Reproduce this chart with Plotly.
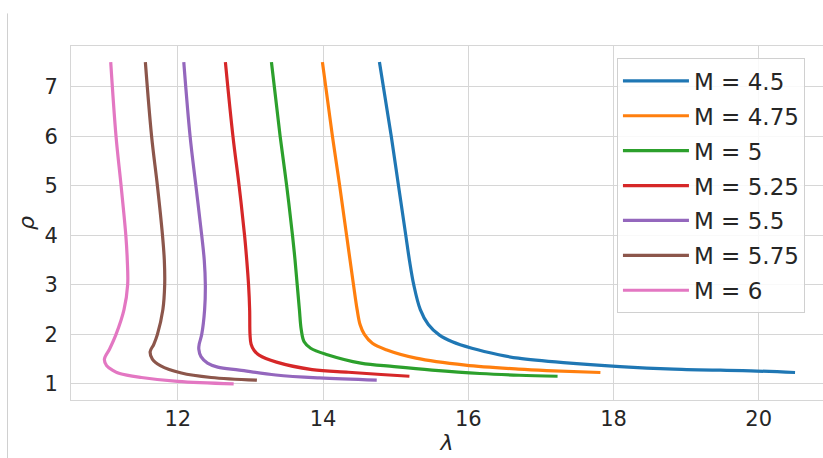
import plotly.graph_objects as go

labels = ["M = 4.5", "M = 4.75", "M = 5", "M = 5.25", "M = 5.5", "M = 5.75", "M = 6"]
colors = ["#1f77b4", "#ff7f0e", "#2ca02c", "#d62728", "#9467bd", "#8c564b", "#e377c2"]

lam_45 = [14.777, 14.94, 15.04, 15.14, 15.19, 15.25, 15.34, 15.45, 15.60, 15.78, 16.05, 16.42, 16.69, 17.31, 18.09, 18.83, 19.975, 20.50]
rho_45 = [7.5, 6.0, 5.0, 4.0, 3.5, 3.0, 2.5, 2.2, 1.99, 1.85, 1.72, 1.59, 1.52, 1.43, 1.35, 1.30, 1.26, 1.23]

lam_475 = [13.992, 14.13, 14.23, 14.325, 14.42, 14.47, 14.51, 14.57, 14.68, 14.87, 15.28, 15.96, 16.69, 17.08, 17.82]
rho_475 = [7.5, 6.0, 5.0, 4.0, 3.0, 2.5, 2.2, 2.0, 1.82, 1.69, 1.52, 1.38, 1.30, 1.27, 1.23]

lam_5 = [13.29, 13.41, 13.50, 13.58, 13.615, 13.645, 13.675, 13.70, 13.74, 13.83, 14.06, 14.52, 14.98, 15.5, 16.16, 16.7, 17.23]
rho_5 = [7.5, 6.0, 5.0, 4.0, 3.5, 3.0, 2.5, 2.1, 1.85, 1.72, 1.59, 1.42, 1.35, 1.28, 1.21, 1.175, 1.155]

lam_525 = [12.656, 12.76, 12.845, 12.92, 12.95, 12.975, 12.99, 12.995, 13.01, 13.05, 13.12, 13.36, 13.85, 14.35, 14.8, 15.19]
rho_525 = [7.5, 6.0, 5.0, 4.0, 3.5, 3.0, 2.5, 2.0, 1.8, 1.68, 1.58, 1.44, 1.29, 1.235, 1.19, 1.155]

lam_55 = [12.083, 12.17, 12.25, 12.33, 12.365, 12.38, 12.37, 12.33, 12.295, 12.29, 12.32, 12.41, 12.55, 12.85, 13.35, 13.95, 14.74]
rho_55 = [7.5, 6.0, 5.0, 4.0, 3.5, 3.0, 2.5, 2.0, 1.8, 1.7, 1.55, 1.42, 1.34, 1.28, 1.18, 1.12, 1.075]

lam_575 = [11.554, 11.64, 11.72, 11.79, 11.815, 11.82, 11.795, 11.72, 11.67, 11.62, 11.65, 11.76, 12.05, 12.46, 13.09]
rho_575 = [7.5, 6.0, 5.0, 4.0, 3.5, 3.0, 2.5, 2.0, 1.8, 1.65, 1.5, 1.37, 1.22, 1.13, 1.075]

lam_6 = [11.077, 11.15, 11.22, 11.285, 11.305, 11.31, 11.26, 11.15, 11.06, 10.99, 11.02, 11.1, 11.2, 11.5, 12.0, 12.77]
rho_6 = [7.5, 6.0, 5.0, 4.0, 3.5, 3.0, 2.5, 2.0, 1.7, 1.5, 1.37, 1.28, 1.21, 1.13, 1.05, 1.0]

xs = [lam_45, lam_475, lam_5, lam_525, lam_55, lam_575, lam_6]
ys = [rho_45, rho_475, rho_5, rho_525, rho_55, rho_575, rho_6]

x_ticks = [12, 14, 16, 18, 20]
y_ticks = [1, 2, 3, 4, 5, 6, 7]

FONT = "DejaVu Sans"
TXT = "#262626"
GRID = "#d6d6d6"

fig = go.Figure()
for i in range(len(labels)):
    fig.add_trace(go.Scatter(
        x=xs[i], y=ys[i], mode="lines", name=labels[i],
        legendgroup=labels[i],
        line=dict(color=colors[i], width=3.2, shape="spline", smoothing=1.0),
    ))

fig.update_layout(
    width=823, height=458,
    margin=dict(l=71, r=0, t=46, b=58),
    paper_bgcolor="white", plot_bgcolor="white",
    font=dict(family=FONT, color=TXT, size=20),
    showlegend=True,
    legend=dict(
        x=0.726, y=0.965, xanchor="left", yanchor="top",
        bgcolor="rgba(255,255,255,0.85)", bordercolor="#d0d0d0", borderwidth=1,
        font=dict(family=FONT, size=23, color=TXT),
        tracegroupgap=2, itemwidth=66,
    ),
    xaxis=dict(
        range=[10.53, 20.885], tickvals=x_ticks, ticktext=[str(v) for v in x_ticks],
        showgrid=True, gridcolor=GRID, gridwidth=1,
        showline=True, linecolor=GRID, linewidth=1, mirror=True,
        zeroline=False, ticks="", ticklabelstandoff=0,
        tickfont=dict(family=FONT, size=21, color=TXT),
        title=dict(text="<i>λ</i>", font=dict(family=FONT, size=22, color=TXT), standoff=4),
    ),
    yaxis=dict(
        range=[0.675, 7.825], tickvals=y_ticks, ticktext=[str(v) for v in y_ticks],
        showgrid=True, gridcolor=GRID, gridwidth=1,
        showline=True, linecolor=GRID, linewidth=1, mirror=False,
        zeroline=False, ticks="", ticklabelstandoff=8,
        tickfont=dict(family=FONT, size=21, color=TXT),
        title=dict(text="<i>ρ</i>", font=dict(family=FONT, size=22, color=TXT), standoff=3),
    ),
    shapes=[dict(type="line", xref="paper", yref="paper",
                 x0=-0.0844, x1=-0.0844, y0=-0.2, y1=1.092,
                 line=dict(color="#d0d0d0", width=1))],
)

fig.write_html(
    "out.html",
    config={"displayModeBar": False},
    post_script="document.body.style.margin='0';document.body.style.overflow='hidden';",
)
